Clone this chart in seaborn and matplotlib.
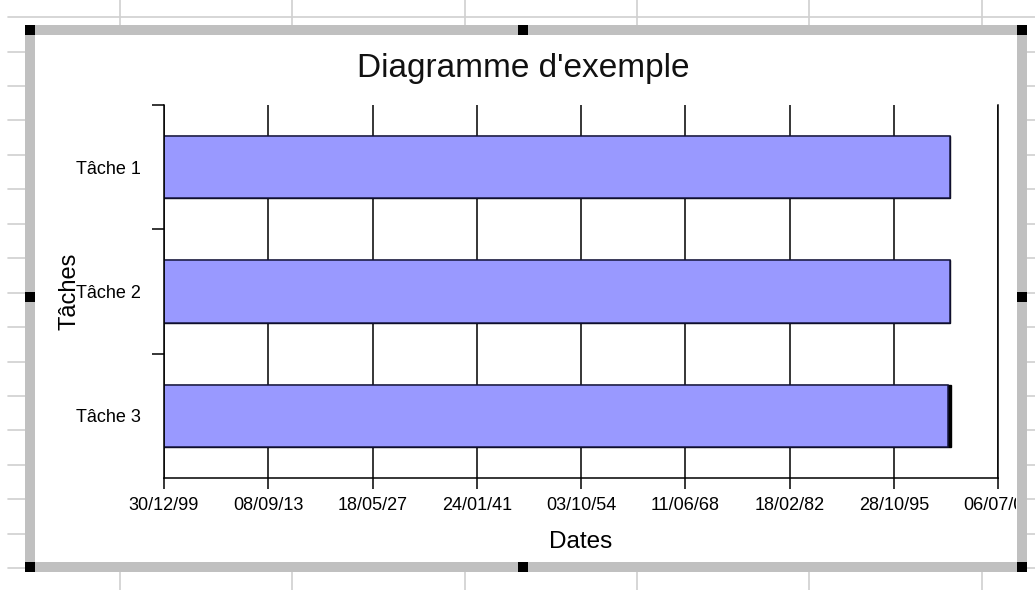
import numpy as np
import pandas as pd
import matplotlib
matplotlib.use("Agg")
import matplotlib.pyplot as plt
import matplotlib.transforms as mtransforms
from matplotlib.patches import Rectangle
from matplotlib.lines import Line2D
import seaborn as sns

# ---------------- data ----------------
tasks = ["Tâche 1", "Tâche 2", "Tâche 3"]
# start dates as spreadsheet serial numbers (days since 30/12/1899)
start_serial = [37700, 37700, 37600]
duration_days = [5, 5, 150]
tick_values = [0, 5000, 10000, 15000, 20000, 25000, 30000, 35000, 40000]
tick_labels = ["30/12/99", "08/09/13", "18/05/27", "24/01/41", "03/10/54",
               "11/06/68", "18/02/82", "28/10/95", "06/07/09"]
title = "Diagramme d'exemple"
x_title = "Dates"
y_title = "Tâches"

# ---------------- style ----------------
sns.set_style("white")
plt.rcParams["font.family"] = ["Liberation Sans", "DejaVu Sans"]

W, H = 1035, 590
fig = plt.figure(figsize=(W / 100, H / 100), dpi=100)
fig.patch.set_facecolor("white")
px = mtransforms.Affine2D().scale(1 / W, -1 / H).translate(0, 1) + fig.transFigure

L, R, T, B = 164, 998, 105, 478
ax = fig.add_axes([L / W, 1 - B / H, (R - L) / W, (B - T) / H])
ax.set_facecolor("white")

df = pd.DataFrame({
    "task": tasks,
    "start": start_serial,
    "end": [s + d for s, d in zip(start_serial, duration_days)],
})

# duration segment (drawn underneath), then start segment on top
sns.barplot(data=df, x="end", y="task", orient="h", color="#000000",
            width=0.5, edgecolor="#000000", linewidth=1.0, saturation=1,
            errorbar=None, ax=ax)
sns.barplot(data=df, x="start", y="task", orient="h", color="#9999FF",
            width=0.5, edgecolor="#14143c", linewidth=1.1, saturation=1,
            errorbar=None, ax=ax)

ax.set_xlim(tick_values[0], tick_values[-1])
ax.set_ylim(len(tasks) - 0.5, -0.5)

ax.set_xticks(tick_values, labels=tick_labels)
ax.set_yticks([-0.5, 0.5, 1.5], labels=[""] * 3)
ax.set_yticks(range(len(tasks)), labels=tasks, minor=True)

ax.tick_params(axis="y", which="major", length=8.6, width=1.1, color="black",
               direction="out", left=True)
ax.tick_params(axis="y", which="minor", length=0, pad=16.5, labelsize=13,
               left=True, labelcolor="black")
ax.tick_params(axis="x", which="major", length=8, width=1.1, color="black",
               direction="out", bottom=True, pad=6, labelsize=13,
               labelcolor="black")

ax.xaxis.grid(True, color="black", linewidth=1.1)
ax.yaxis.grid(False)
ax.set_axisbelow(True)

for s in ["left", "bottom", "right"]:
    ax.spines[s].set_visible(True)
    ax.spines[s].set_color("black")
    ax.spines[s].set_linewidth(1.1)
ax.spines["top"].set_visible(False)

ax.set_xlabel(x_title, fontsize=17.5, color="black")
ax.xaxis.set_label_coords(0.5, (B - 548) / (B - T))
ax.xaxis.label.set_va("baseline")
ax.set_ylabel(y_title, fontsize=17, color="black")
ax.yaxis.set_label_coords((70 - L) / (R - L), 0.5)
ax.yaxis.label.set_va("center")

fig.text(523 / W, 1 - 77 / H, title, ha="center", va="baseline",
         fontsize=24, color="#111111")

# clip tick labels at the chart frame
clipbox = mtransforms.TransformedBbox(
    mtransforms.Bbox([[0, 0], [1016 / W, 1]]), fig.transFigure)
for lab in ax.get_xticklabels():
    lab.set_clip_box(clipbox)
    lab.set_clip_on(True)

# ---------------- spreadsheet decoration ----------------
gcol = "#D0D0D0"
for x in [120, 292, 465, 637, 809, 982]:
    fig.add_artist(Line2D([x, x], [0, 26], transform=px, color=gcol, lw=1.2))
    fig.add_artist(Line2D([x, x], [571, 590], transform=px, color=gcol, lw=1.2))
fig.add_artist(Line2D([8, W], [17, 17], transform=px, color=gcol, lw=1.2))
for y in np.arange(51.5, 580, 34.45):
    fig.add_artist(Line2D([8, 26], [y, y], transform=px, color=gcol, lw=1.2))
    fig.add_artist(Line2D([1027, W], [y, y], transform=px, color=gcol, lw=1.2))

# chart selection frame and handles
fig.add_artist(Rectangle((30, 30), 992, 537, transform=px, fill=False,
                         edgecolor="#C0C0C0", lw=7.2, zorder=10))
for hx, hy in [(30, 30), (523, 30), (1022, 30), (30, 297), (1022, 297),
               (30, 567), (523, 567), (1022, 567)]:
    fig.add_artist(Rectangle((hx - 5, hy - 5), 10, 10, transform=px,
                             facecolor="black", edgecolor="none", zorder=11))

fig.savefig("out.png", dpi=100)
